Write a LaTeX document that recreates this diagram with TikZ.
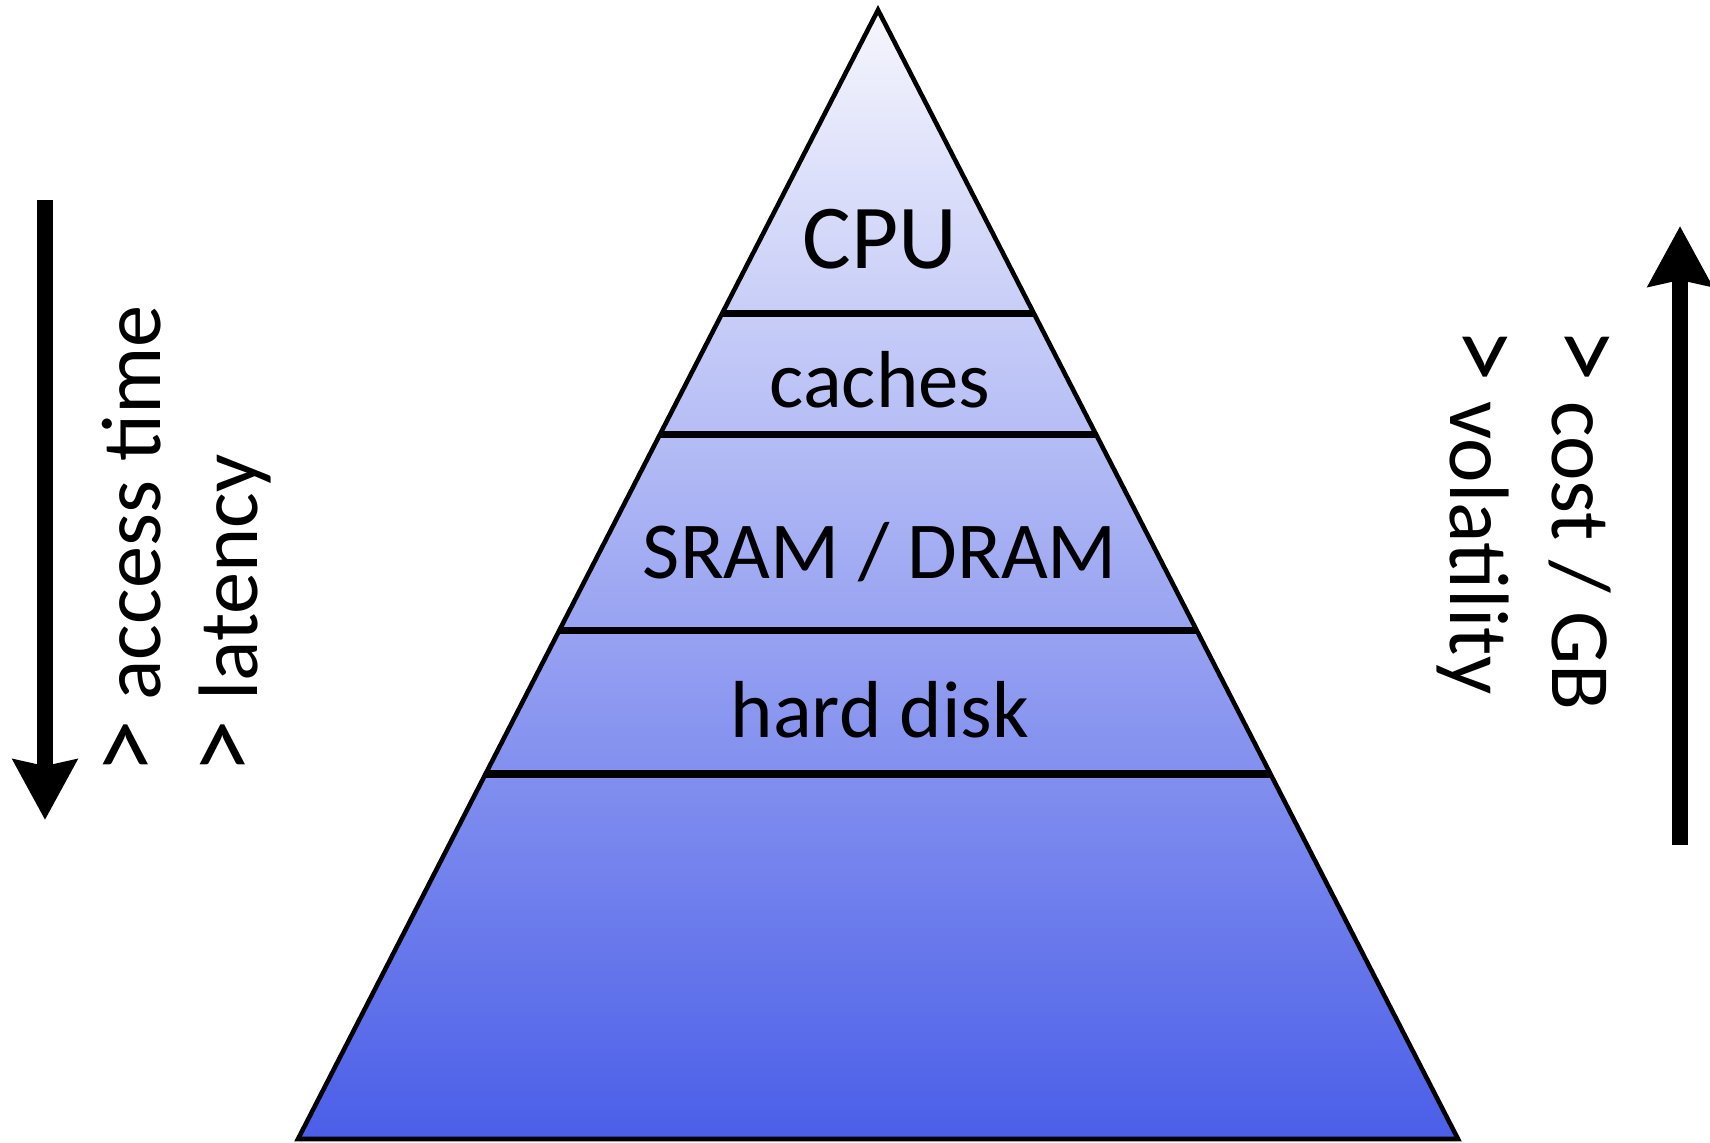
\documentclass[tikz,border=0pt]{standalone}
\usepackage{graphicx}
\usepackage{fontspec}
\setmainfont{Carlito}
\usetikzlibrary{arrows.meta,calc}

\definecolor{pyrtop}{RGB}{246,246,253}
\definecolor{pyrbot}{RGB}{74,94,232}

\newcommand{\gtsign}{\scalebox{1.3}{>}}

\begin{document}
\begin{tikzpicture}
	\tikzstyle{layer} = [draw=none,fill=none,anchor=base,font=\fontsize{23}{28}\selectfont];
	\tikzstyle{side} = [draw=none,fill=none,inner sep=0pt,anchor=base west,font=\fontsize{24}{29}\selectfont];
	\tikzstyle{divider} = [line width=2pt];
	\tikzstyle{trend} = [line width=4.5pt,-{Stealth[length=6mm,width=6.3mm,inset=0.6mm]}];

	\useasboundingbox (0,0) rectangle (17.1,11.42);

	\coordinate (apex) at (8.78,11.32);
	\coordinate (bl) at (2.98,0.03);
	\coordinate (br) at (14.58,0.03);

	\shade[top color=pyrtop, bottom color=pyrbot] (apex) -- (bl) -- (br) -- cycle;
	\draw[line width=1.3pt] (apex) -- (bl) -- (br) -- cycle;

	\foreach \t in {0.7316,0.6236,0.4508,0.3233}
		\draw[divider] ($(bl)!\t!(apex)$) -- ($(br)!\t!(apex)$);

	\node[layer, font=\fontsize{26}{30}\selectfont] at (8.8, 8.74) (cpu) {CPU};
	\node[layer] at (8.8, 7.35) (caches) {caches};
	\node[layer] at (8.8, 5.64) (ram) {SRAM / DRAM};
	\node[layer] at (8.8, 4.05) (disk) {hard disk};

	\coordinate (ltail) at (0.45, 9.42);
	\coordinate (lhead) at (0.45, 3.22);
	\draw[trend] (ltail) -- (lhead);
		\node[side, rotate=90] at (1.60, 3.67) (access) {\gtsign{} access time};
		\node[side, rotate=90] at (2.57, 3.67) (latency) {\gtsign{} latency};

	\coordinate (rtail) at (16.80, 2.97);
	\coordinate (rhead) at (16.80, 9.16);
	\draw[trend] (rtail) -- (rhead);
		\node[side, rotate=-90] at (15.52, 8.15) (cost) {\gtsign{} cost / GB};
		\node[side, rotate=-90] at (14.50, 8.15) (volatility) {\gtsign{} volatility};

\end{tikzpicture}
\end{document}
